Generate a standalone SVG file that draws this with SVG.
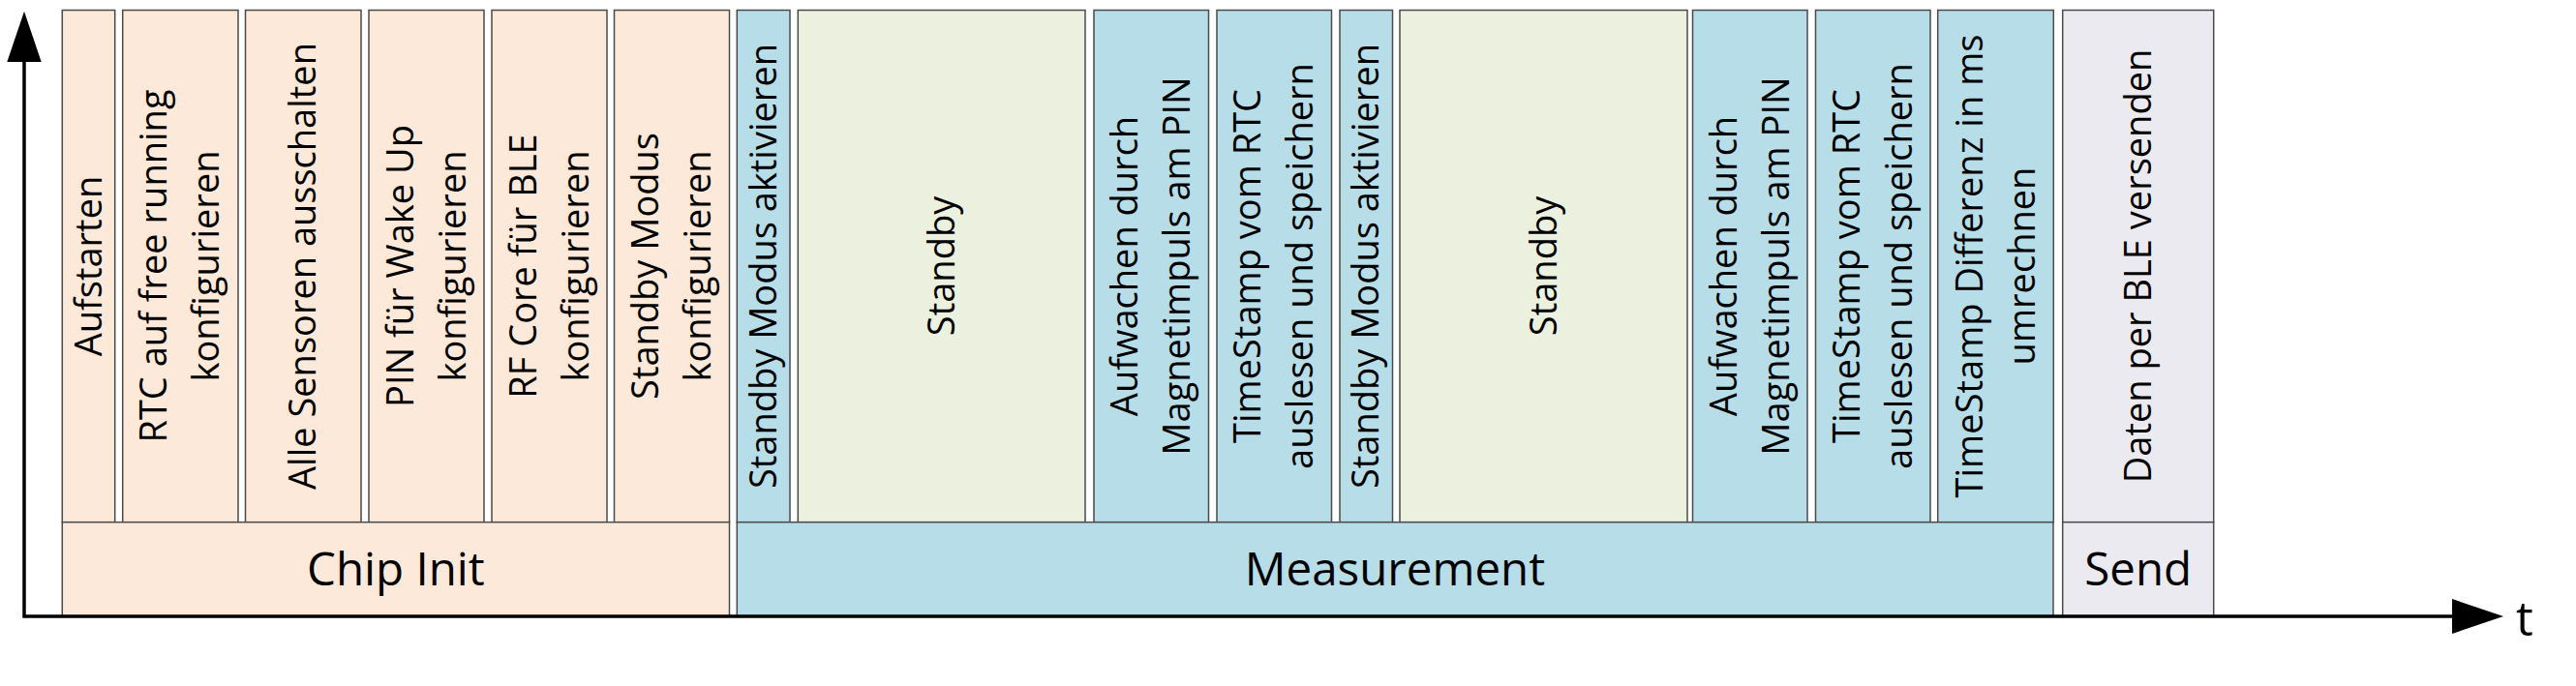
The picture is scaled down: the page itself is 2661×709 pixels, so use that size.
<svg xmlns="http://www.w3.org/2000/svg" width="2661" height="709" viewBox="0 0 2661 709">
<defs>
<style>
.box{stroke:#4a4a4a;stroke-width:1.5}
.init{fill:#FDE9D9}
.meas{fill:#B7DDE8}
.stby{fill:#EBF1DE}
.send{fill:#ECEAF1}
.lbl{font-family:"Open Sans","Noto Sans",sans-serif;font-size:38px;fill:#000;text-anchor:middle}
.ph{font-family:"Open Sans","Noto Sans",sans-serif;font-size:47.5px;fill:#000;text-anchor:middle}
.axis{stroke:#000;stroke-width:3.5;fill:none}
</style>
</defs>
<rect width="2661" height="709" fill="#fff"/>

<g id="n-aufstarten"><rect class="box init" x="64.3" y="10.5" width="54.4" height="529.2"/>
<g transform="translate(0,275) rotate(-90)"><text class="lbl" x="0" y="104.5">Aufstarten</text></g></g>

<g id="n-rtc"><rect class="box init" x="126.7" y="10.5" width="119.3" height="529.2"/>
<g transform="translate(0,275) rotate(-90)"><text class="lbl" x="0" y="172.4">RTC auf free running</text><text class="lbl" x="0" y="226.4">konfigurieren</text></g></g>

<g id="n-sensoren"><rect class="box init" x="253.5" y="10.5" width="119.5" height="529.2"/>
<g transform="translate(0,275) rotate(-90)"><text class="lbl" x="0" y="326.3">Alle Sensoren ausschalten</text></g></g>

<g id="n-pin"><rect class="box init" x="381" y="10.5" width="119" height="529.2"/>
<g transform="translate(0,275) rotate(-90)"><text class="lbl" x="0" y="426.5">PIN für Wake Up</text><text class="lbl" x="0" y="480.5">konfigurieren</text></g></g>

<g id="n-rfcore"><rect class="box init" x="508" y="10.5" width="119" height="529.2"/>
<g transform="translate(0,275) rotate(-90)"><text class="lbl" x="0" y="553.5">RF Core für BLE</text><text class="lbl" x="0" y="607.5">konfigurieren</text></g></g>

<g id="n-standbykonf"><rect class="box init" x="634.5" y="10.5" width="119" height="529.2"/>
<g transform="translate(0,275) rotate(-90)"><text class="lbl" x="0" y="680">Standby Modus</text><text class="lbl" x="0" y="734">konfigurieren</text></g></g>

<g id="n-aktiv1"><rect class="box meas" x="761.3" y="10.5" width="54.7" height="529.2"/>
<g transform="translate(0,275) rotate(-90)"><text class="lbl" x="0" y="801.7">Standby Modus aktivieren</text></g></g>

<g id="n-standby1"><rect class="box stby" x="824.3" y="10.5" width="296.7" height="529.2"/>
<g transform="translate(0,275) rotate(-90)"><text class="lbl" x="0" y="985.7">Standby</text></g></g>

<g id="n-aufwachen1"><rect class="box meas" x="1130" y="10.5" width="118.5" height="529.2"/>
<g transform="translate(0,275) rotate(-90)"><text class="lbl" x="0" y="1175.3">Aufwachen durch</text><text class="lbl" x="0" y="1229.3">Magnetimpuls am PIN</text></g></g>

<g id="n-timestamp1"><rect class="box meas" x="1257" y="10.5" width="118.5" height="529.2"/>
<g transform="translate(0,275) rotate(-90)"><text class="lbl" x="0" y="1302.3">TimeStamp vom RTC</text><text class="lbl" x="0" y="1356.3">auslesen und speichern</text></g></g>

<g id="n-aktiv2"><rect class="box meas" x="1384" y="10.5" width="54.5" height="529.2"/>
<g transform="translate(0,275) rotate(-90)"><text class="lbl" x="0" y="1424.3">Standby Modus aktivieren</text></g></g>

<g id="n-standby2"><rect class="box stby" x="1446" y="10.5" width="297" height="529.2"/>
<g transform="translate(0,275) rotate(-90)"><text class="lbl" x="0" y="1607.5">Standby</text></g></g>

<g id="n-aufwachen2"><rect class="box meas" x="1748.5" y="10.5" width="118.5" height="529.2"/>
<g transform="translate(0,275) rotate(-90)"><text class="lbl" x="0" y="1793.8">Aufwachen durch</text><text class="lbl" x="0" y="1847.8">Magnetimpuls am PIN</text></g></g>

<g id="n-timestamp2"><rect class="box meas" x="1875.5" y="10.5" width="118.5" height="529.2"/>
<g transform="translate(0,275) rotate(-90)"><text class="lbl" x="0" y="1920.8">TimeStamp vom RTC</text><text class="lbl" x="0" y="1974.8">auslesen und speichern</text></g></g>

<g id="n-differenz"><rect class="box meas" x="2001.7" y="10.5" width="119.6" height="529.2"/>
<g transform="translate(0,275) rotate(-90)"><text class="lbl" x="0" y="2047.5">TimeStamp Differenz in ms</text><text class="lbl" x="0" y="2101.5">umrechnen</text></g></g>

<g id="n-daten"><rect class="box send" x="2130.7" y="10.5" width="156" height="529.2"/>
<g transform="translate(0,275) rotate(-90)"><text class="lbl" x="0" y="2221.7">Daten per BLE versenden</text></g></g>

<g id="p-chipinit"><rect class="box init" x="64.3" y="539.7" width="689.2" height="97.3"/>
<text class="ph" x="408.9" y="605">Chip Init</text></g>

<g id="p-measurement"><rect class="box meas" x="761.3" y="539.7" width="1359.7" height="97.3"/>
<text class="ph" x="1441" y="605">Measurement</text></g>

<g id="p-send"><rect class="box send" x="2130.7" y="539.7" width="156" height="97.3"/>
<text class="ph" x="2208.7" y="605">Send</text></g>

<g id="connectors">
<polyline class="axis" points="25,62 25,637 2535,637"/>
<polygon points="25,11.7 7.3,64 42.7,64" fill="#000"/>
<polygon points="2586,637 2533,619 2533,655" fill="#000"/>
<text x="2599" y="657" style="font-family:'Open Sans','Noto Sans',sans-serif;font-size:50px;fill:#000">t</text>
</g>
</svg>
